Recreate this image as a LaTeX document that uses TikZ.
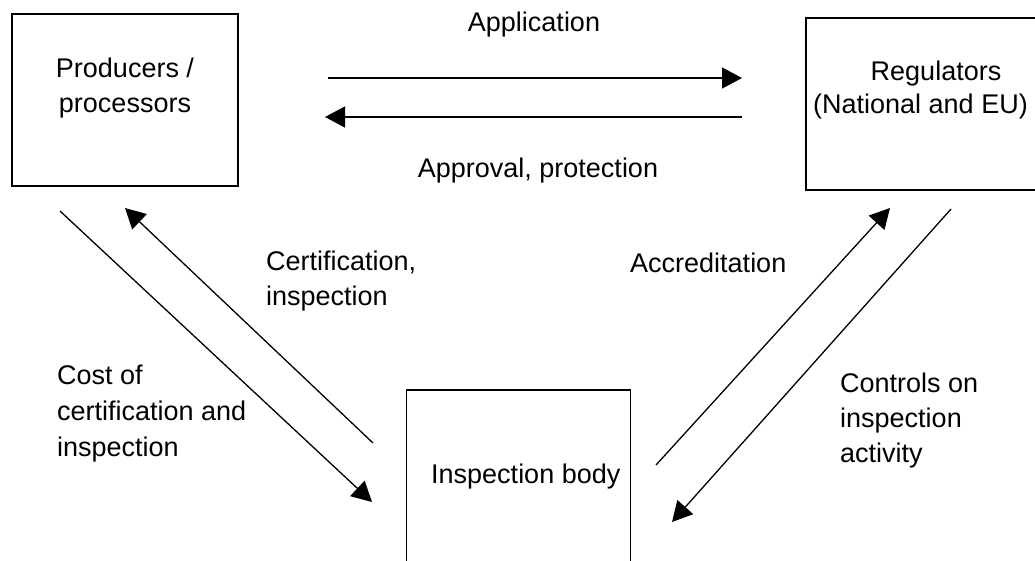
\documentclass[tikz,border=0pt]{standalone}
\usepackage{fontspec}
\setmainfont{Liberation Sans}
\usetikzlibrary{arrows.meta}
\begin{document}
\begin{tikzpicture}[x=1pt,y=-1pt,
  box/.style={draw,line width=1.6pt,inner sep=0pt,outer sep=0pt},
  lbl/.style={inner sep=0pt,font=\fontsize{27}{35}\selectfont},
  flow/.style={line width=1.3pt,-{Triangle[length=20pt,width=21pt]}}]
\useasboundingbox (0,0) rectangle (1035,560);
\clip (0,0) rectangle (1035,560);
% boxes
\node[box,minimum width=226pt,minimum height=172pt] (prod) at (125,100) {};
\node[box,minimum width=240pt,minimum height=172pt] (reg) at (926,104) {};
\node[box,minimum width=224pt,minimum height=190pt] (insp) at (518.5,485) {};
% box texts
\node[lbl,anchor=base] (prod1) at (125,77) {Producers /};
\node[lbl,anchor=base] (prod2) at (125,112) {processors};
\node[lbl,anchor=base] (reg1) at (936,80) {Regulators};
\node[lbl,anchor=base west] (reg2) at (813,113) {(National and EU)};
\node[lbl,anchor=base west] (insp1) at (431,483) {Inspection body};
% labels
\node[lbl,anchor=base] (lapp) at (534,31) {Application};
\node[lbl,anchor=base] (lappr) at (538,177) {Approval, protection};
\node[lbl,anchor=base west] (lcert1) at (266,270) {Certification,};
\node[lbl,anchor=base west] (lcert2) at (266,305) {inspection};
\node[lbl,anchor=base west] (lcost1) at (57,384) {Cost of};
\node[lbl,anchor=base west] (lcost2) at (57,420) {certification and};
\node[lbl,anchor=base west] (lcost3) at (57,456) {inspection};
\node[lbl,anchor=base west] (lacc) at (630,272) {Accreditation};
\node[lbl,anchor=base west] (lctl1) at (840,392) {Controls on};
\node[lbl,anchor=base west] (lctl2) at (840,427) {inspection};
\node[lbl,anchor=base west] (lctl3) at (840,462) {activity};
% connector end points
\coordinate (a1) at (328,78);   \coordinate (a2) at (742,78);
\coordinate (b1) at (742,117);  \coordinate (b2) at (325,117);
\coordinate (c1) at (60,211);   \coordinate (c2) at (372,502);
\coordinate (d1) at (373,443);  \coordinate (d2) at (125,208);
\coordinate (e1) at (656,465);  \coordinate (e2) at (890,208);
\coordinate (f1) at (951,209);  \coordinate (f2) at (672,522);
\draw[flow] (a1) -- (a2);
\draw[flow] (b1) -- (b2);
\draw[flow] (c1) -- (c2);
\draw[flow] (d1) -- (d2);
\draw[flow] (e1) -- (e2);
\draw[flow] (f1) -- (f2);
\end{tikzpicture}
\end{document}
